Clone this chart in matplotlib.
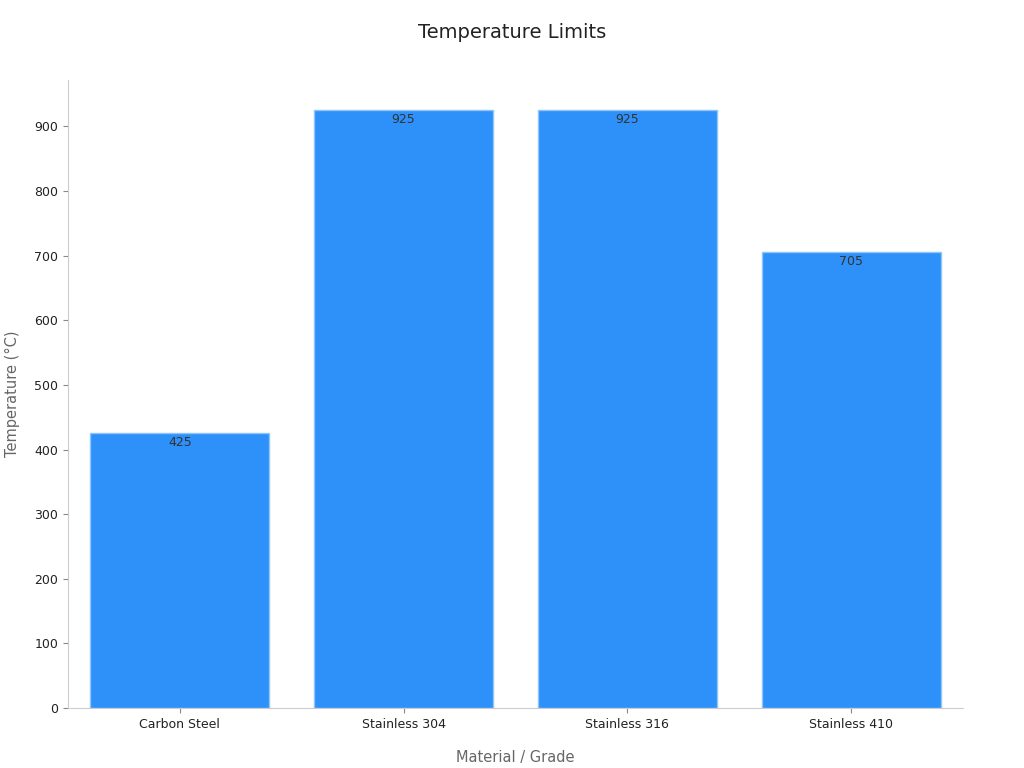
import matplotlib
matplotlib.use("Agg")
import matplotlib.pyplot as plt

categories = ["Carbon Steel", "Stainless 304", "Stainless 316", "Stainless 410"]
values = [425, 925, 925, 705]

fig = plt.figure(figsize=(10.24, 7.68), dpi=100)
ax = fig.add_axes([0.0664, 0.078, 0.874, 0.818])
bars = ax.bar(range(len(categories)), values, width=0.8, color="#2E91F9",
              edgecolor="#8CC4FB", linewidth=1)
for i, v in enumerate(values):
    ax.text(i, v - 4, str(v), ha="center", va="top", fontsize=9, color="#333333")
ax.set_xlim(-0.5, 3.5)
ax.set_ylim(0, 972)
ax.set_xticks(range(len(categories)))
ax.set_xticklabels(categories, fontsize=9, color="#222222")
ax.set_yticks(range(0, 1000, 100))
ax.tick_params(axis="y", labelsize=9, colors="#222222")
ax.tick_params(axis="both", color="#888888")
for s in ["top", "right"]:
    ax.spines[s].set_visible(False)
for s in ["left", "bottom"]:
    ax.spines[s].set_color("#CCCCCC")
ax.set_xlabel("Material / Grade", fontsize=10.5, color="#666666", labelpad=14)
ax.set_ylabel("Temperature (°C)", fontsize=10.5, color="#666666", labelpad=10)
fig.suptitle("Temperature Limits", fontsize=14, color="#222222", y=0.97)
fig.savefig("out.png", dpi=100)
